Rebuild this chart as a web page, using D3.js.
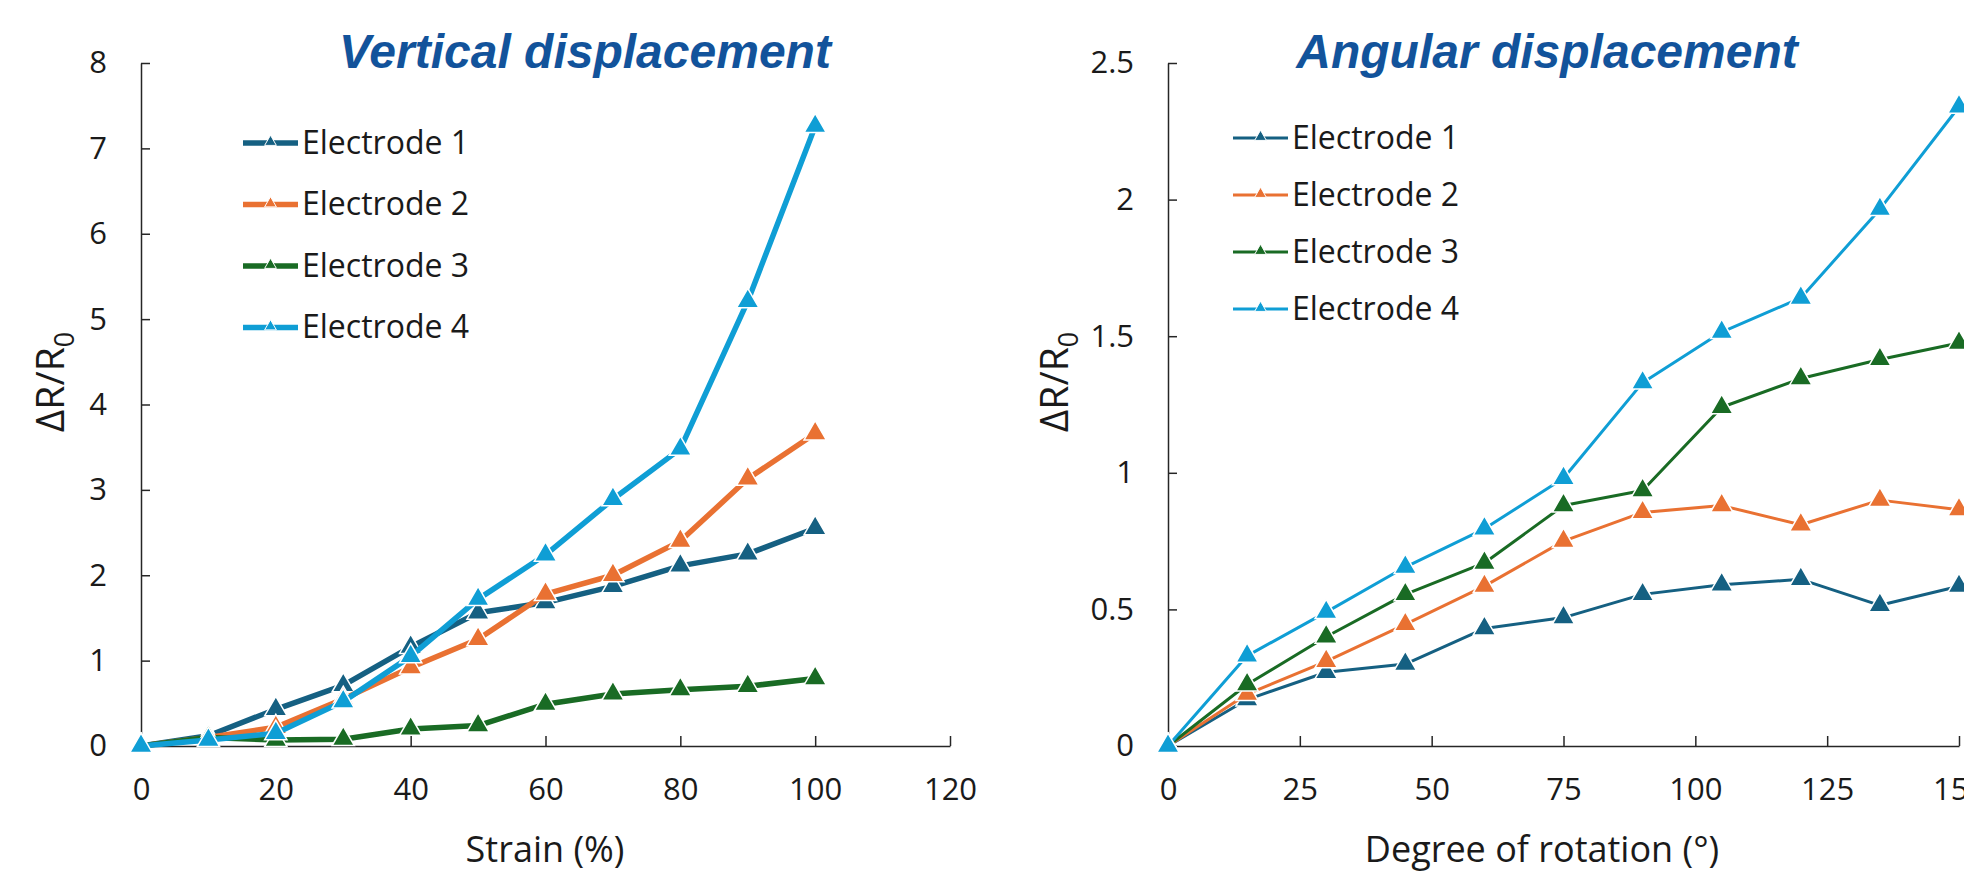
<!DOCTYPE html>
<html lang="en">
<head>
<meta charset="UTF-8">
<title>Displacement response</title>
<script src="https://d3js.org/d3.v7.min.js"></script>
<style>
  body { margin: 0; background: #fff; }
  svg { display: block; }
  .tick text { font-family: "Open Sans", sans-serif; font-size: 31px; fill: #1a1a1a; }
  .axis path, .axis line { stroke: #262626; stroke-width: 1.5; }
</style>
</head>
<body>
<div id="chart"></div>
<script>
// series names + colours
const seriesNames = ["Electrode 1", "Electrode 2", "Electrode 3", "Electrode 4"];
const seriesColors = ["#156082", "#E97132", "#196B24", "#0F9ED5"];

// left panel: vertical displacement vs strain
const strain = [0, 10, 20, 30, 40, 50, 60, 70, 80, 90, 100];
const vertE1 = [0, 0.12, 0.43, 0.71, 1.16, 1.56, 1.68, 1.87, 2.11, 2.25, 2.55];
const vertE2 = [0, 0.10, 0.22, 0.55, 0.92, 1.25, 1.78, 2.00, 2.40, 3.13, 3.66];
const vertE3 = [0, 0.10, 0.07, 0.08, 0.20, 0.24, 0.49, 0.61, 0.66, 0.70, 0.79];
const vertE4 = [0, 0.07, 0.15, 0.52, 1.05, 1.72, 2.24, 2.89, 3.48, 5.21, 7.26];
const strainTicks = [0, 20, 40, 60, 80, 100, 120];
const vertTicks = [0, 1, 2, 3, 4, 5, 6, 7, 8];

// right panel: angular displacement vs rotation
const rotation = [0, 15, 30, 45, 60, 75, 90, 105, 120, 135, 150];
const angE1 = [0, 0.17, 0.27, 0.30, 0.43, 0.47, 0.555, 0.59, 0.61, 0.515, 0.585];
const angE2 = [0, 0.19, 0.31, 0.445, 0.585, 0.75, 0.855, 0.88, 0.81, 0.90, 0.865];
const angE3 = [0, 0.225, 0.40, 0.555, 0.67, 0.88, 0.935, 1.24, 1.345, 1.415, 1.475];
const angE4 = [0, 0.33, 0.49, 0.655, 0.795, 0.98, 1.33, 1.515, 1.64, 1.965, 2.34];
const rotationTicks = [0, 25, 50, 75, 100, 125, 150, 175];
const angTicks = [0, 0.5, 1, 1.5, 2, 2.5];

const W = 1964, H = 872;
const svg = d3.select("#chart").append("svg")
  .attr("width", W).attr("height", H);

function panel(opts) {
  const g = svg.append("g");
  const x = d3.scaleLinear().domain(opts.xDomain).range(opts.xRange);
  const y = d3.scaleLinear().domain(opts.yDomain).range([746, 63]);

  // axes, Excel-style inside ticks
  g.append("g").attr("class", "axis")
    .attr("transform", `translate(0,${y(0)})`)
    .call(d3.axisBottom(x).tickValues(opts.xTicks).tickSizeInner(-10).tickSizeOuter(0)
      .tickPadding(32).tickFormat(d3.format("d")));
  g.append("g").attr("class", "axis")
    .attr("transform", `translate(${x(0)},0)`)
    .call(d3.axisLeft(y).tickValues(opts.yTicks).tickSizeInner(-9).tickSizeOuter(0)
      .tickPadding(34).tickFormat(d => d));

  // title
  g.append("text")
    .attr("x", opts.titleX).attr("y", 68)
    .attr("text-anchor", "middle")
    .style("font-family", "'Liberation Sans', Arial, sans-serif")
    .style("font-weight", "bold").style("font-style", "italic")
    .style("font-size", "48px").style("fill", "#12539b")
    .text(opts.title);

  // axis titles
  g.append("text")
    .attr("x", opts.xLabelX).attr("y", 862)
    .attr("text-anchor", "middle")
    .style("font-family", "'Open Sans', sans-serif").style("font-size", "36px")
    .style("fill", "#1a1a1a")
    .text(opts.xLabel);

  const yl = g.append("text")
    .attr("transform", `translate(${opts.yLabelX},382) rotate(-90)`)
    .attr("text-anchor", "middle")
    .style("font-family", "'Open Sans', sans-serif").style("font-size", "39px")
    .style("fill", "#1a1a1a");
  yl.append("tspan").text("ΔR/R");
  yl.append("tspan").attr("dy", 10).style("font-size", "27px").text("0");

  const line = d3.line()
    .x(d => x(d[0])).y(d => y(d[1]));
  const tri = d3.symbol(d3.symbolTriangle).size(215)();

  opts.series.forEach((vals, i) => {
    const pts = opts.xs.map((v, j) => [v, vals[j]]);
    g.append("path").datum(pts)
      .attr("d", line)
      .attr("fill", "none")
      .attr("stroke", seriesColors[i])
      .attr("stroke-width", opts.lineW)
      .attr("stroke-linejoin", "round");
    g.selectAll(null).data(pts).join("path")
      .attr("d", tri)
      .attr("transform", d => `translate(${x(d[0])},${y(d[1])})`)
      .attr("fill", seriesColors[i])
      .attr("stroke", "#fff").attr("stroke-width", 1.5);
  });

  // legend
  const lg = g.append("g");
  seriesNames.forEach((name, i) => {
    const ly = opts.legendY + i * opts.legendStep;
    lg.append("line")
      .attr("x1", opts.legendX).attr("x2", opts.legendX + 55)
      .attr("y1", ly).attr("y2", ly)
      .attr("stroke", seriesColors[i]).attr("stroke-width", opts.lineW);
    lg.append("path")
      .attr("d", d3.symbol(d3.symbolTriangle).size(60)())
      .attr("transform", `translate(${opts.legendX + 27.5},${ly - 1})`)
      .attr("fill", seriesColors[i]).attr("stroke", "#fff").attr("stroke-width", 1);
    lg.append("text")
      .attr("x", opts.legendX + 59).attr("y", ly).attr("dy", "0.33em")
      .style("font-family", "'Open Sans', sans-serif").style("font-size", "32px")
      .style("fill", "#1a1a1a")
      .text(name);
  });
}

panel({
  xDomain: [0, 120], xRange: [141, 950], yDomain: [0, 8],
  xTicks: strainTicks, yTicks: vertTicks,
  xs: strain, series: [vertE1, vertE2, vertE3, vertE4],
  title: "Vertical displacement", titleX: 585,
  xLabel: "Strain (%)", xLabelX: 545, yLabelX: 64,
  lineW: 5.5, legendX: 243, legendY: 143, legendStep: 61.5
});

panel({
  xDomain: [0, 150], xRange: [1168, 1959], yDomain: [0, 2.5],
  xTicks: rotationTicks, yTicks: angTicks,
  xs: rotation, series: [angE1, angE2, angE3, angE4],
  title: "Angular displacement", titleX: 1547,
  xLabel: "Degree of rotation (°)", xLabelX: 1542, yLabelX: 1068,
  lineW: 3, legendX: 1233, legendY: 138, legendStep: 57
});
</script>
</body>
</html>
